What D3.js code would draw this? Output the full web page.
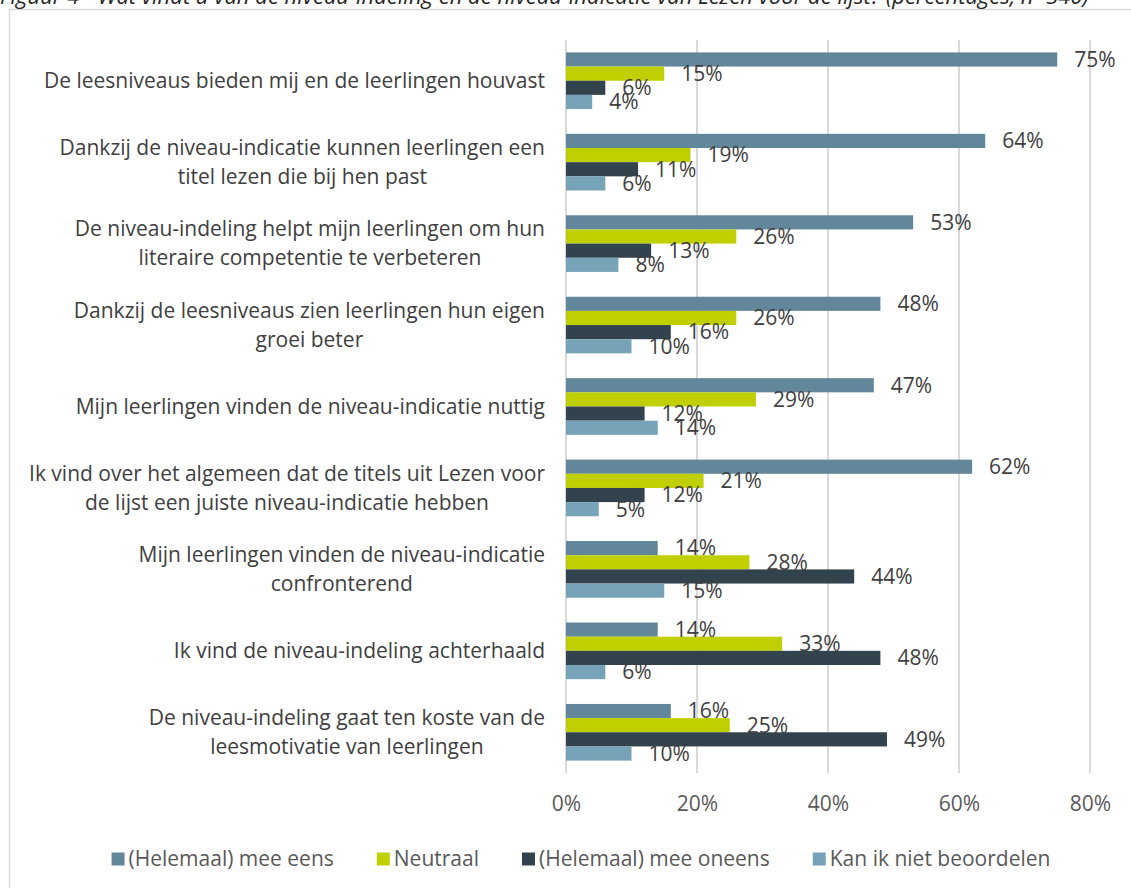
<!DOCTYPE html>
<html><head><meta charset="utf-8">
<script src="https://cdn.jsdelivr.net/npm/d3@7"></script>
<style>body{margin:0;background:#fff;overflow:hidden}svg{display:block}</style>
</head><body>
<svg id="c" width="1131" height="888"></svg>
<script>
const categories = [
  ["De leesniveaus bieden mij en de leerlingen houvast"],
  ["Dankzij de niveau-indicatie kunnen leerlingen een","titel lezen die bij hen past"],
  ["De niveau-indeling helpt mijn leerlingen om hun","literaire competentie te verbeteren"],
  ["Dankzij de leesniveaus zien leerlingen hun eigen","groei beter"],
  ["Mijn leerlingen vinden de niveau-indicatie nuttig"],
  ["Ik vind over het algemeen dat de titels uit Lezen voor","de lijst een juiste niveau-indicatie hebben"],
  ["Mijn leerlingen vinden de niveau-indicatie","confronterend"],
  ["Ik vind de niveau-indeling achterhaald"],
  ["De niveau-indeling gaat ten koste van de","leesmotivatie van leerlingen"]
];
const seriesNames = ["(Helemaal) mee eens","Neutraal","(Helemaal) mee oneens","Kan ik niet beoordelen"];
const eens     = [75,64,53,48,47,62,14,14,16];
const neutraal = [15,19,26,26,29,21,28,33,25];
const oneens   = [6,11,13,16,12,12,44,48,49];
const kanNiet  = [4,6,8,10,14,5,15,6,10];
const ticks = [0,20,40,60,80];
const title = "Figuur 4 - Wat vindt u van de niveau-indeling en de niveau-indicatie van Lezen voor de lijst? (percentages, n=340)";
const colors = ["#62869A","#BFCF00","#33434D","#77A3B8"];

const seriesValues = [eens, neutraal, oneens, kanNiet];
const FONT = "'Open Sans', sans-serif";
const FS = 21;
const svg = d3.select("#c");

// frame
svg.append("rect").attr("x",9.5).attr("y",9.5).attr("width",1140).attr("height",900)
  .attr("fill","none").attr("stroke","#d9d9d9").attr("stroke-width",1.5);

// title (cut off at top)
svg.append("text").attr("x",0).attr("y",4).attr("font-family",FONT).attr("font-style","italic")
  .attr("font-size",22).attr("fill","#262626").text(title);

const idx = d3.range(categories.length);
const x = d3.scaleLinear().domain([0,80]).range([566,1090]);
const y0 = d3.scaleBand().domain(idx).range([40,773]);
const y1 = d3.scaleBand().domain(d3.range(4)).range([0,y0.bandwidth()]).paddingInner(0).paddingOuter(0.875);

// gridlines
svg.append("g").selectAll("line").data(ticks).join("line")
  .attr("x1",d=>x(d)).attr("x2",d=>x(d)).attr("y1",40).attr("y2",773)
  .attr("stroke","#d9d9d9").attr("stroke-width",2);

// axis labels
const xAxis = d3.axisBottom(x).tickValues(ticks).tickFormat(d=>d+"%").tickSize(0).tickPadding(0);
const ax = svg.append("g").attr("transform","translate(0,804)").call(xAxis);
ax.select(".domain").remove();
ax.selectAll("text").attr("font-family",FONT).attr("font-size",FS).attr("fill","#595959")
  .attr("dy","0.35em").attr("y",0);

// bars
const groups = svg.append("g").selectAll("g").data(idx).join("g")
  .attr("transform",i=>`translate(0,${y0(i)})`);
groups.each(function(i){
  const g = d3.select(this);
  seriesValues.forEach((vals,s)=>{
    g.append("rect").attr("x",x(0)).attr("y",y1(s)).attr("width",x(vals[i])-x(0))
      .attr("height",y1.bandwidth()).attr("fill",colors[s]);
  });
});
groups.each(function(i){
  const g = d3.select(this);
  seriesValues.forEach((vals,s)=>{
    g.append("text").attr("x",x(vals[i])+17).attr("y",y1(s)+y1.bandwidth()/2).attr("dy","0.35em")
      .attr("font-family",FONT).attr("font-size",FS).attr("fill","#404040").text(vals[i]+"%");
  });
});

// category labels
const catG = svg.append("g");
categories.forEach((lines,i)=>{
  const cy = y0(i)+y0.bandwidth()/2;
  const lh = 29;
  const tmp = lines.map((l,k)=>catG.append("text").attr("font-family",FONT).attr("font-size",FS)
    .attr("fill","#404040").attr("text-anchor","middle").attr("dy","0.35em")
    .attr("y",cy+(k-(lines.length-1)/2)*lh).text(l));
  const w = d3.max(tmp,t=>t.node().getComputedTextLength());
  tmp.forEach(t=>t.attr("x",545-w/2));
});

// legend
const lg = svg.append("g");
let items = seriesNames.map((n,s)=>{
  const t = lg.append("text").attr("font-family",FONT).attr("font-size",FS).attr("fill","#595959")
    .attr("dy","0.35em").attr("y",859).text(n);
  return {t, w:t.node().getComputedTextLength(), s};
});
const sq=13, gap1=4, gap2=43;
const total = d3.sum(items,d=>sq+gap1+d.w)+gap2*(items.length-1);
let cx = 581-total/2;
items.forEach(d=>{
  lg.append("rect").attr("x",cx).attr("y",859-sq/2).attr("width",sq).attr("height",sq).attr("fill",colors[d.s]);
  d.t.attr("x",cx+sq+gap1);
  cx += sq+gap1+d.w+gap2;
});
</script>
</body></html>
